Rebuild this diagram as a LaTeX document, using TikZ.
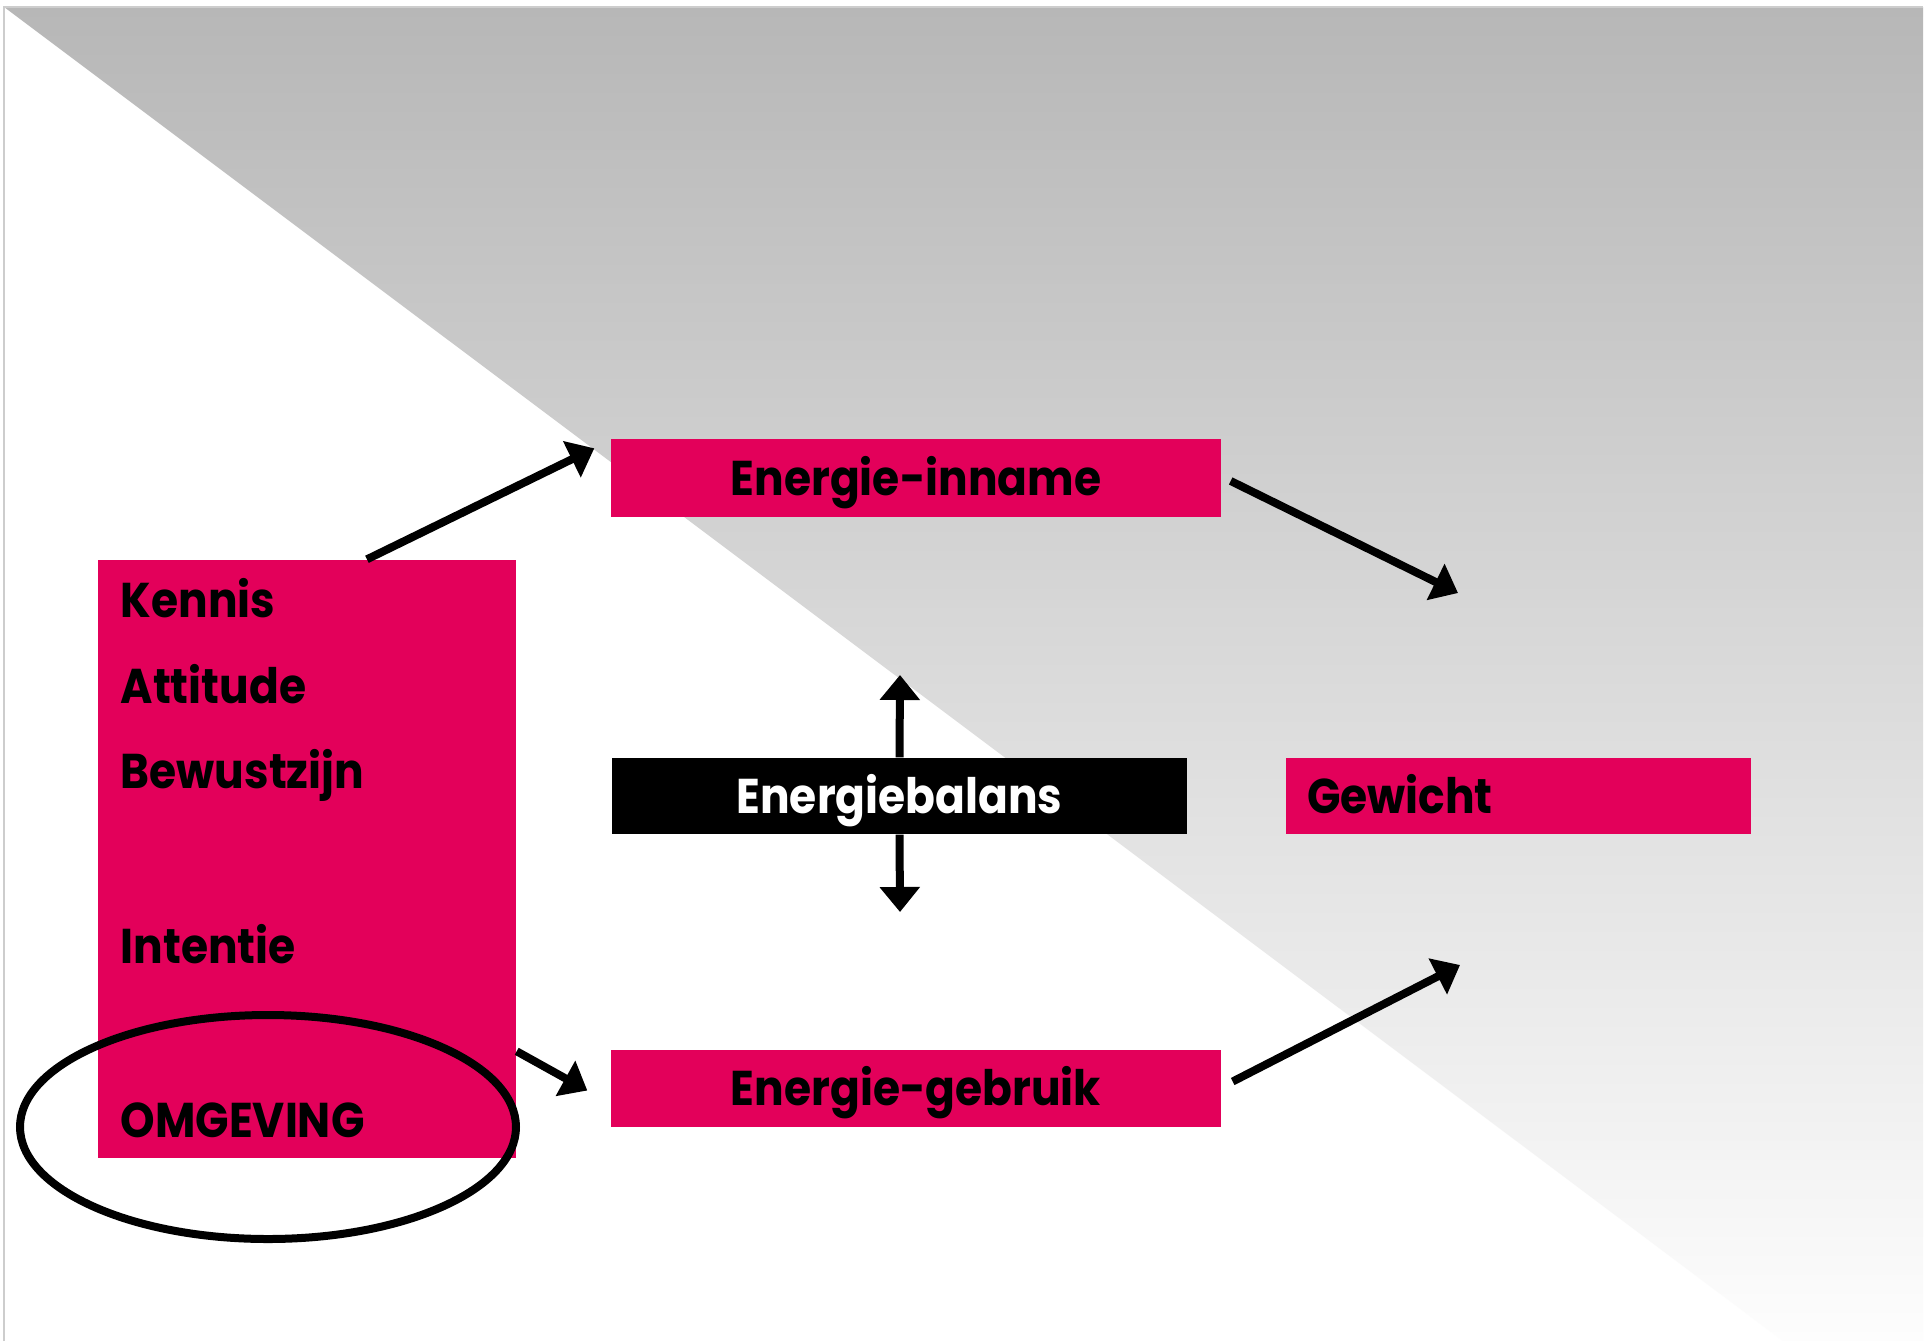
\documentclass[tikz,border=0pt]{standalone}
\usepackage{fontspec}
\setmainfont{Poppins}[FakeStretch=0.9]
\usepackage{tikz}
\usetikzlibrary{shapes.geometric, arrows.meta, positioning, calc}
\definecolor{roze}{RGB}{227, 0, 90}
\definecolor{bgtop}{RGB}{183, 183, 183}
\definecolor{bgmid}{RGB}{237, 237, 237}
\definecolor{bgbottom}{RGB}{253, 253, 253}
\definecolor{rand}{RGB}{205, 205, 205}
\tikzstyle{blok} = [rectangle, inner sep=0pt, text height=3.4mm, text depth=0pt, fill=roze, font=\fontsize{13.9pt}{16pt}\selectfont\bfseries]
\tikzstyle{balk} = [rectangle, inner sep=0pt, text height=3.4mm, text depth=0pt, fill=black, text=white, font=\fontsize{13.9pt}{16pt}\selectfont\bfseries]
\tikzstyle{regel} = [anchor=base west, inner sep=0pt, font=\fontsize{13.9pt}{16pt}\selectfont\bfseries]
\tikzstyle{arrow} = [line width=0.8mm, -{Triangle[length=2.5mm, width=3.9mm]}]

\begin{document}
\begin{tikzpicture}[x=0.1mm, y=-0.1mm]
    \useasboundingbox (0,0) rectangle (1930,1341);
    % Background
    \fill[white] (0,0) rectangle (1930,1341);
    \shade[top color=bgtop, middle color=bgmid, bottom color=bgbottom] (4,7) -- (1923,7) -- (1923,1341) -- (1783,1341) -- cycle;
    \draw[rand, line width=0.25mm] (4,1341) -- (4,7) -- (1923,7);

    % Left block with factors
    \node[blok, minimum width=41.8mm, minimum height=59.8mm] (factoren) at (307, 859) {};
    \node[regel] (kennis) at (120, 617) {Kennis};
    \node[regel] (attitude) at (120, 703) {Attitude};
    \node[regel] (bewust) at (120, 788) {Bewustzijn};
    \node[regel] (intentie) at (120, 963) {Intentie};
    \node[regel] (omgeving) at (120, 1137) {OMGEVING};
    \node[ellipse, draw, line width=0.8mm, minimum width=49.6mm, minimum height=22.4mm] (ring) at (268, 1127) {};

    % Energy boxes
    \node[blok, minimum width=61cm/10, minimum height=7.8mm] (inname) at (916, 478) {Energie-inname};
    \node[balk, minimum width=57.5mm, minimum height=7.6mm] (balans) at (899.5, 796) {Energiebalans};
    \node[blok, minimum width=61cm/10, minimum height=7.7mm] (gebruik) at (916, 1088.5) {Energie-gebruik};
    \node[blok, minimum height=7.6mm, inner xsep=2.1mm, text width=42.3mm, align=left] (gewicht) at (1518.5, 796) {Gewicht};

    % Arrow ends
    \coordinate (gw-in) at (1458, 593);
    \coordinate (gw-out) at (1460, 965);
    \coordinate (bal-up) at (900, 675);
    \coordinate (bal-down) at (900, 912);

    % Arrows
    \draw[arrow] ($(factoren.north west)!0.643!(factoren.north east)$) -- ($(inname.north west)+(-16,10)$);
    \draw[arrow] ($(factoren.north east)+(0,492)$) -- ($(gebruik.west)+(-23,2)$);
    \draw[arrow] (balans.north) -- (bal-up);
    \draw[arrow] (balans.south) -- (bal-down);
    \draw[arrow] ($(inname.east)+(9,3)$) -- (gw-in);
    \draw[arrow] ($(gebruik.east)+(11,-7)$) -- (gw-out);
\end{tikzpicture}
\end{document}
